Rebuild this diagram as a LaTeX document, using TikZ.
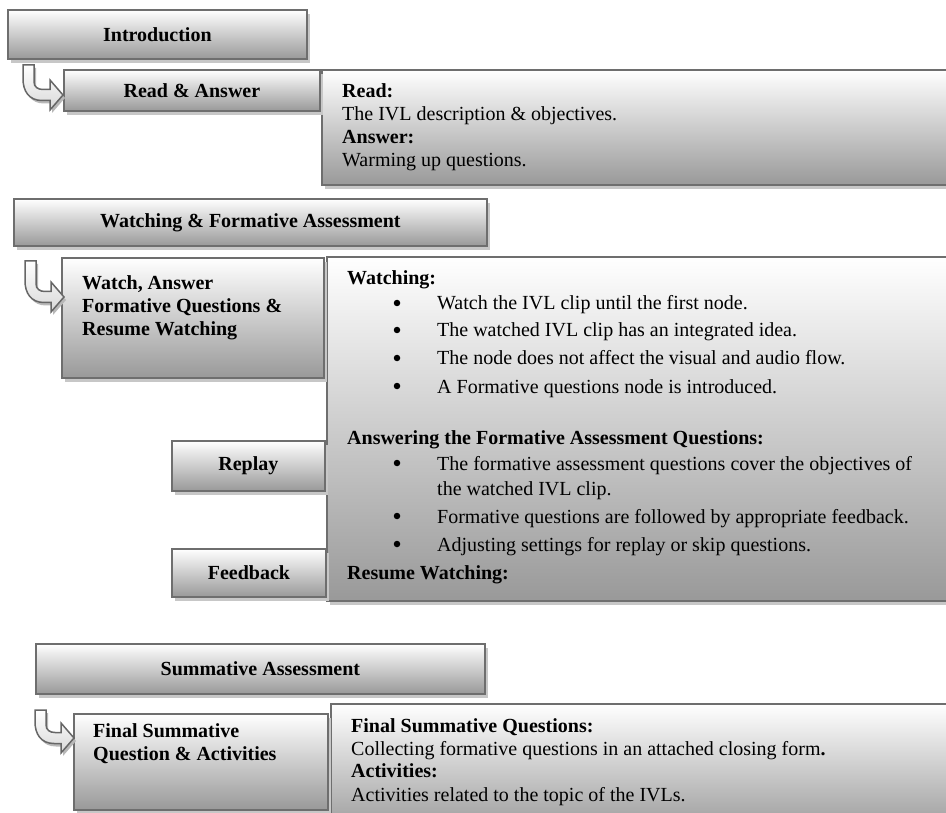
\documentclass[tikz,border=0pt]{standalone}
\usepackage{fontspec}
\setmainfont{Liberation Serif}
\usetikzlibrary{shadows}
\tikzset{
  txt/.style={font=\fontsize{20}{23}\selectfont, inner sep=0pt, anchor=base west},
  gbox/.style={draw=black!57, line width=1.8pt, top color=white, bottom color=black!40,
    inner sep=0pt, anchor=north west,
    drop shadow={shadow xshift=3pt, shadow yshift=-4pt, fill=black!22, opacity=1},
    font=\fontsize{20}{23}\selectfont\bfseries},
  barrow/.style={draw=black!60, line width=1.5pt, top color=white, bottom color=black!15,
    line join=miter,
    drop shadow={shadow xshift=2pt, shadow yshift=-3pt, fill=black!28, opacity=1}},
  bul/.style={circle, fill=black, inner sep=0pt, minimum size=6.5pt}
}
% #1 shaft left x, #2 top y, #3 centre line y, #4 tip x
\newcommand{\bentarrow}[4]{%
  \path[barrow] (#1,#2) -- ({#1+11},#2) -- ({#1+11},{#3-13})
    .. controls ({#1+11},{#3-8}) and ({#1+15},{#3-5.5}) .. ({#1+20},{#3-5.5})
    -- ({#4-13},{#3-5.5}) -- ({#4-13},{#3-15}) -- (#4,#3) -- ({#4-13},{#3+15})
    -- ({#4-13},{#3+5.5}) -- ({#1+19},{#3+5.5})
    .. controls ({#1+6},{#3+5.5}) and (#1,{#3-4}) .. (#1,{#3-16}) -- cycle;}
\begin{document}
\begin{tikzpicture}[x=1pt,y=-1pt]
\path[use as bounding box] (0,0) rectangle (946,813);
\clip (0,0) rectangle (946,813);

% ---------- Introduction ----------
\node[gbox, minimum width=299pt, minimum height=49pt] (intro) at (7,9) {Introduction};
\node[gbox, minimum width=639pt, minimum height=115pt] (readbox) at (321,69) {};
\node[gbox, minimum width=256pt, minimum height=41pt] (readans) at (63,69) {Read \& Answer};

\node[txt] (r1) at (342,98) {\textbf{Read:}};
\node[txt] (r2) at (342,121) {The IVL description \& objectives.};
\node[txt] (r3) at (342,144) {\textbf{Answer:}};
\node[txt] (r4) at (342,167) {Warming up questions.};

% ---------- Watching ----------
\node[gbox, minimum width=473pt, minimum height=47pt] (watchhead) at (13,198) {Watching \& Formative Assessment};
\node[gbox, minimum width=634pt, minimum height=344pt] (watchbox) at (326,256) {};
\node[gbox, minimum width=262pt, minimum height=120pt] (watchans) at (61,257) {};
\node[txt, font=\fontsize{20}{23}\selectfont\bfseries] (wa1) at (82,290) {Watch, Answer};
\node[txt, font=\fontsize{20}{23}\selectfont\bfseries] (wa2) at (82,313) {Formative Questions \&};
\node[txt, font=\fontsize{20}{23}\selectfont\bfseries] (wa3) at (82,336) {Resume Watching};

\node[gbox, minimum width=153pt, minimum height=50pt] (replay) at (171,440) {Replay};
\node[gbox, minimum width=154pt, minimum height=48pt] (feedback) at (171,548) {Feedback};

\node[txt] (w0) at (347,285) {\textbf{Watching:}};
\node[bul] (b1) at (397,303) {};
\node[txt] (w1) at (437,310) {Watch the IVL clip until the first node.};
\node[bul] (b2) at (397,330) {};
\node[txt] (w2) at (437,337) {The watched IVL clip has an integrated idea.};
\node[bul] (b3) at (397,358) {};
\node[txt] (w3) at (437,365) {The node does not affect the visual and audio flow.};
\node[bul] (b4) at (397,386) {};
\node[txt] (w4) at (437,393) {A Formative questions node is introduced.};

\node[txt] (a0) at (347,444) {\textbf{Answering the Formative Assessment Questions:}};
\node[bul] (b5) at (397,463) {};
\node[txt] (a1) at (437,470) {The formative assessment questions cover the objectives of};
\node[txt] (a1b) at (437,495) {the watched IVL clip.};
\node[bul] (b6) at (397,516) {};
\node[txt] (a2) at (437,523) {Formative questions are followed by appropriate feedback.};
\node[bul] (b7) at (397,544) {};
\node[txt] (a3) at (437,551) {Adjusting settings for replay or skip questions.};
\node[txt] (rw) at (347,579) {\textbf{Resume Watching:}};

% ---------- Summative ----------
\node[gbox, minimum width=449pt, minimum height=50pt] (summ) at (35,643) {Summative Assessment};
\node[gbox, minimum width=630pt, minimum height=130pt] (finalbox) at (330,703) {};
\node[gbox, minimum width=254pt, minimum height=96pt] (final) at (73,713) {};
\node[txt, font=\fontsize{20}{23}\selectfont\bfseries] (f1) at (93,737) {Final Summative};
\node[txt, font=\fontsize{20}{23}\selectfont\bfseries] (f2) at (93,760) {Question \& Activities};

\node[txt] (s1) at (351,732) {\textbf{Final Summative Questions:}};
\node[txt] (s2) at (351,755) {Collecting formative questions in an attached closing form\textbf{.}};
\node[txt] (s3) at (351,777) {\textbf{Activities:}};
\node[txt] (s4) at (351,801) {Activities related to the topic of the IVLs.};

% ---------- bent arrows ----------
\coordinate (arr1) at (23,65);
\coordinate (arr2) at (25,261);
\coordinate (arr3) at (35,710);
\bentarrow{23}{65}{95}{63}
\bentarrow{25}{261}{297}{64}
\bentarrow{35}{710}{738}{74}
\end{tikzpicture}
\end{document}
